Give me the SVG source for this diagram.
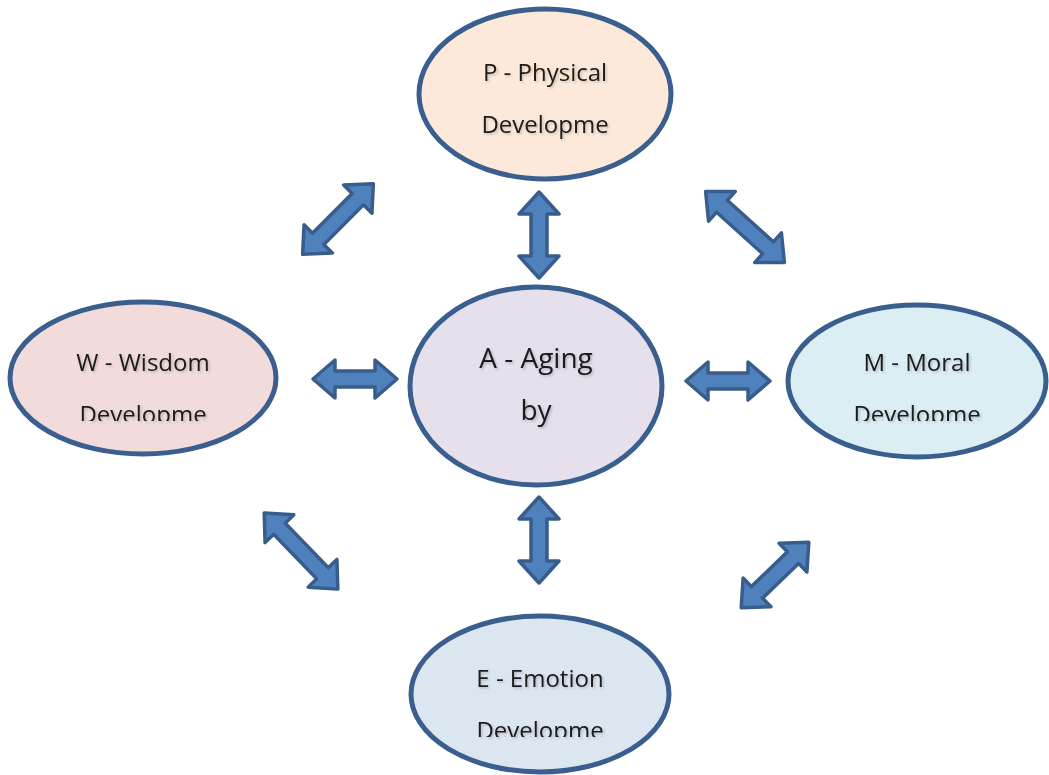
<svg xmlns="http://www.w3.org/2000/svg" width="1049" height="775" viewBox="0 0 1049 775">
<style>
.node{stroke:#3a5f8f;stroke-width:5}
.t{font-family:"Open Sans","DejaVu Sans",sans-serif;font-size:24px;fill:#1a1a1a;text-anchor:middle}
.tc{font-size:28px}
.arr{fill:#4f81bd;stroke:#385d8a;stroke-width:3.5;stroke-linejoin:round}
</style>
<defs>
<filter id="sh" x="-10%" y="-20%" width="120%" height="150%">
<feDropShadow dx="1.5" dy="1.5" stdDeviation="1" flood-color="#000" flood-opacity="0.2"/>
</filter>
<clipPath id="cw"><rect x="0" y="300" width="290" height="121"/></clipPath>
<clipPath id="cm"><rect x="780" y="300" width="269" height="121"/></clipPath>
<clipPath id="ce"><rect x="400" y="610" width="280" height="127"/></clipPath>
</defs>
<rect width="1049" height="775" fill="#fff"/>
<g id="connectors">
<path class="arr" transform="translate(539,235) rotate(90)" d="M-43,0 L-21,-20 L-21,-8 L21,-8 L21,-20 L43,0 L21,20 L21,8 L-21,8 L-21,20 Z"/>
<path class="arr" transform="translate(539,540) rotate(90)" d="M-43,0 L-21,-20 L-21,-8 L21,-8 L21,-20 L43,0 L21,20 L21,8 L-21,8 L-21,20 Z"/>
<path class="arr" transform="translate(355,379)" d="M-42,0 L-20,-19 L-20,-8 L20,-8 L20,-19 L42,0 L20,19 L20,8 L-20,8 L-20,19 Z"/>
<path class="arr" transform="translate(728,381)" d="M-42,0 L-20,-19 L-20,-8 L20,-8 L20,-19 L42,0 L20,19 L20,8 L-20,8 L-20,19 Z"/>
<path class="arr" transform="translate(338,219) rotate(-45)" d="M-50,0 L-28,-20 L-28,-8 L28,-8 L28,-20 L50,0 L28,20 L28,8 L-28,8 L-28,20 Z"/>
<path class="arr" transform="translate(745,227) rotate(42)" d="M-53,0 L-31,-20 L-31,-8 L31,-8 L31,-20 L53,0 L31,20 L31,8 L-31,8 L-31,20 Z"/>
<path class="arr" transform="translate(301,551) rotate(46)" d="M-53,0 L-31,-20 L-31,-8 L31,-8 L31,-20 L53,0 L31,20 L31,8 L-31,8 L-31,20 Z"/>
<path class="arr" transform="translate(775,575) rotate(-44)" d="M-47,0 L-25,-20 L-25,-8 L25,-8 L25,-20 L47,0 L25,20 L25,8 L-25,8 L-25,20 Z"/>
</g>
<g id="node-P">
<ellipse class="node" cx="545" cy="94" rx="126" ry="85" fill="#fde9d9"/>
<g filter="url(#sh)"><text class="t" x="545" y="81">P - Physical</text>
<text class="t" x="545" y="133">Developme</text></g>
</g>
<g id="node-A">
<ellipse class="node" cx="536" cy="386" rx="126" ry="99" fill="#e5e0ec"/>
<g filter="url(#sh)"><text class="t tc" x="536" y="368">A - Aging</text>
<text class="t tc" x="536" y="420">by</text></g>
</g>
<g id="node-W">
<ellipse class="node" cx="143" cy="378" rx="133" ry="76" fill="#f2dcdb"/>
<g filter="url(#sh)"><text class="t" x="143" y="371">W - Wisdom</text>
<text class="t" x="143" y="423" clip-path="url(#cw)">Developme</text></g>
</g>
<g id="node-M">
<ellipse class="node" cx="917" cy="381" rx="129" ry="76" fill="#dbeef3"/>
<g filter="url(#sh)"><text class="t" x="917" y="371">M - Moral</text>
<text class="t" x="917" y="423" clip-path="url(#cm)">Developme</text></g>
</g>
<g id="node-E">
<ellipse class="node" cx="540" cy="694" rx="129" ry="78" fill="#dce6f1"/>
<g filter="url(#sh)"><text class="t" x="540" y="687">E - Emotion</text>
<text class="t" x="540" y="739" clip-path="url(#ce)">Developme</text></g>
</g>
</svg>
